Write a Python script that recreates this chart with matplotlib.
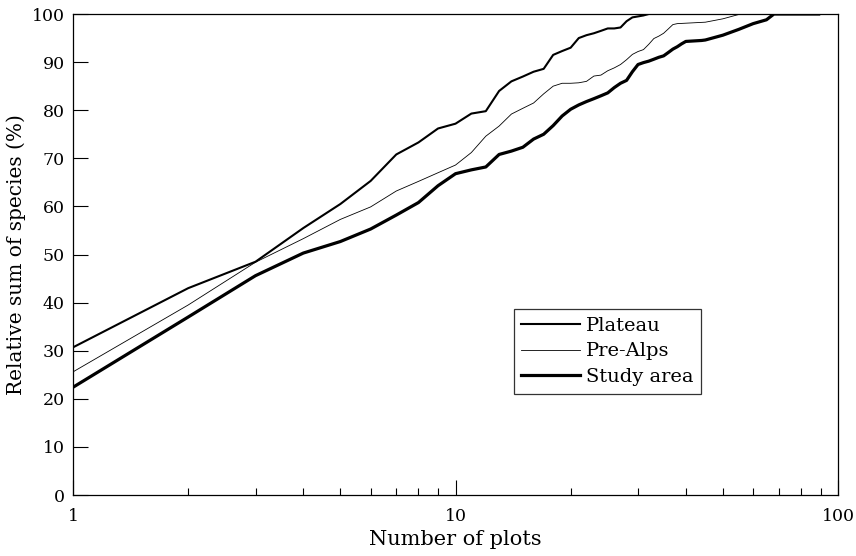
import numpy as np
import matplotlib.pyplot as plt

# number of plots (x) and relative sum of species in % (y)
plateau_n = [1, 2, 3, 4, 5, 6, 7, 8, 9, 10, 11, 12, 13, 14, 15, 16, 17, 18,
             19, 20, 21, 22, 23, 24, 25, 26, 27, 28, 29, 30, 31, 32]
plateau_y = [30.7, 43.0, 48.5, 55.5, 60.5, 65.3, 70.8, 73.3, 76.2, 77.2, 79.3,
             79.8, 84.0, 86.0, 87.0, 88.0, 88.6, 91.5, 92.3, 93.0, 95.0, 95.6,
             96.0, 96.5, 97.0, 97.0, 97.2, 98.5, 99.3, 99.5, 99.7, 100.0]

prealps_n = [1, 2, 3, 4, 5, 6, 7, 8, 9, 10, 11, 12, 13, 14, 15, 16, 17, 18,
             19, 20, 21, 22, 23, 24, 25, 26, 27, 28, 29, 30, 31, 32, 33, 34,
             35, 36, 37, 38, 45, 50, 55, 57]
prealps_y = [25.6, 39.5, 48.4, 53.3, 57.3, 59.9, 63.2, 65.2, 67.0, 68.6, 71.2,
             74.6, 76.7, 79.2, 80.4, 81.5, 83.4, 85.0, 85.6, 85.6, 85.7, 86.0,
             87.1, 87.3, 88.2, 88.8, 89.5, 90.5, 91.6, 92.2, 92.6, 93.7, 94.9,
             95.4, 96.0, 96.9, 97.8, 98.0, 98.3, 99.0, 99.9, 100.0]

study_n = [1, 2, 3, 4, 5, 6, 7, 8, 9, 10, 11, 12, 13, 14, 15, 16, 17, 18, 19,
           20, 21, 22, 23, 24, 25, 26, 27, 28, 29, 30, 31, 32, 33, 34, 35, 36,
           37, 38, 39, 40, 44, 45, 50, 55, 60, 65, 68, 89]
study_y = [22.4, 37.0, 45.6, 50.3, 52.7, 55.3, 58.2, 60.8, 64.3, 66.8, 67.6,
           68.2, 70.8, 71.5, 72.3, 74.0, 75.0, 76.8, 78.8, 80.2, 81.1, 81.8,
           82.4, 83.0, 83.6, 84.7, 85.6, 86.2, 88.0, 89.5, 89.9, 90.2, 90.6,
           91.0, 91.3, 92.0, 92.7, 93.2, 93.8, 94.3, 94.5, 94.6, 95.6, 96.8,
           98.0, 98.8, 100.0, 100.0]

plt.rcParams['font.family'] = ['DejaVu Serif']
plt.rcParams['font.size'] = 12

fig = plt.figure(figsize=(8.56, 5.56), dpi=100)
ax = fig.add_axes([0.0853, 0.1097, 0.8937, 0.8651])

ax.plot(plateau_n, plateau_y, color='black', lw=1.5, label='Plateau')
ax.plot(prealps_n, prealps_y, color='black', lw=0.6, label='Pre-Alps')
ax.plot(study_n, study_y, color='black', lw=2.3, label='Study area')

ax.set_xscale('log')
ax.set_xlim(1, 100)
ax.set_ylim(0, 100)
ax.set_yticks(np.arange(0, 101, 10))
ax.set_xticks([1, 10, 100])
ax.set_xticklabels(['1', '10', '100'])

ax.tick_params(which='major', direction='in', length=11, width=0.8, pad=6,
               labelsize=12.5)
ax.tick_params(axis='x', which='major', pad=9)
ax.tick_params(which='minor', direction='in', length=5, width=0.8)
ax.tick_params(axis='y', which='both', right=False)
ax.tick_params(axis='x', which='both', top=False)
for s in ax.spines.values():
    s.set_linewidth(0.9)

ax.set_xlabel('Number of plots', fontsize=15, labelpad=4)
ax.set_ylabel('Relative sum of species (%)', fontsize=14.5, labelpad=4)

leg = ax.legend(loc='upper left', bbox_to_anchor=(0.576, 0.387), frameon=True,
                fancybox=False, edgecolor='black', handlelength=3.0,
                handletextpad=0.3, borderpad=0.4, labelspacing=0.4,
                borderaxespad=0, fontsize=14)
leg.get_frame().set_linewidth(0.9)

fig.savefig('out.png', dpi=100)
